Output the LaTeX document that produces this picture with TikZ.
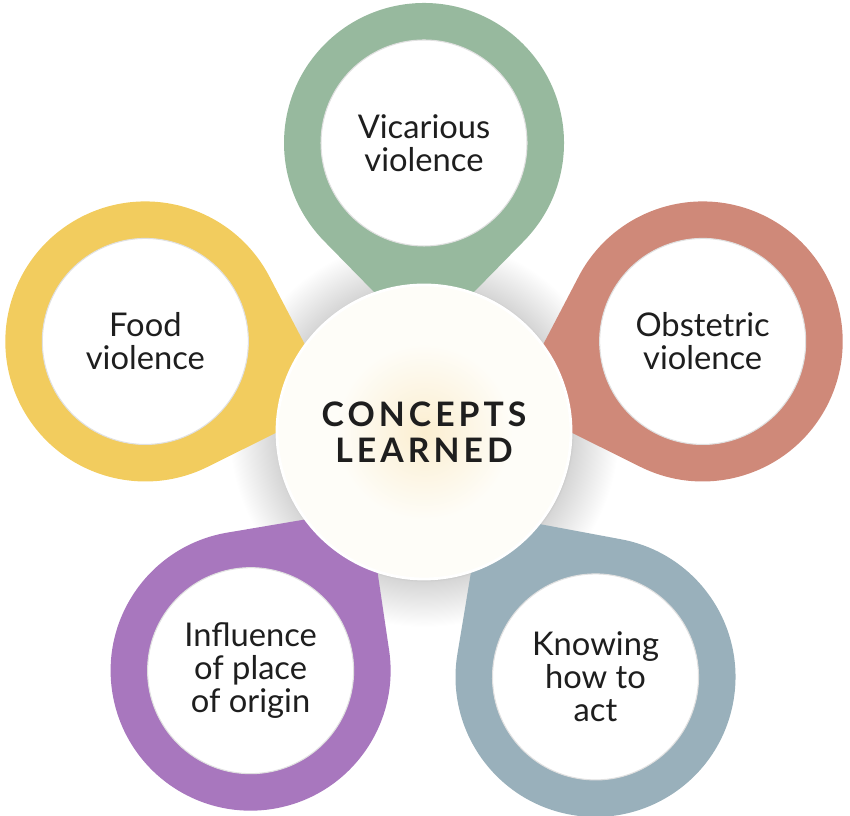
\documentclass[tikz,border=0pt]{standalone}
\usepackage{fontspec}
\setmainfont{Lato}
\usepackage{tikz}
\usepackage{xcolor}
\usetikzlibrary{positioning}
\definecolor{ringgreen}{RGB}{151,185,158}
\definecolor{ringyellow}{RGB}{242,204,94}
\definecolor{ringred}{RGB}{207,137,121}
\definecolor{ringpurple}{RGB}{168,119,190}
\definecolor{ringblue}{RGB}{153,176,187}
\definecolor{glowc}{RGB}{251,238,208}
\definecolor{coreedge}{RGB}{254,253,248}
\definecolor{textc}{RGB}{30,30,30}
\pgfdeclareradialshading{coreshadow}{\pgfpointorigin}{
 color(0bp)=(black!28); color(18.6bp)=(black!28); color(19.2bp)=(black!16);
 color(25bp)=(white); color(50bp)=(white)}
\pgfdeclareradialshading{coreglow}{\pgfpointorigin}{
 color(0bp)=(glowc); color(15bp)=(coreedge); color(25bp)=(coreedge); color(50bp)=(coreedge)}
\tikzset{
ringpin/.pic={
 \fill[pic actions] (180:2.0) -- (225.6:1.4)
  arc[start angle=225.6, end angle=494.4, radius=1.4] -- cycle;
 \fill[white, draw=black!12, line width=0.3pt] (0,0) circle (1.03);
 },
Bulle/.style={
 align=center, 
 text=textc, 
 font=\fontsize{9.3}{9.4}\selectfont
 },
Coeur/.style={
 circle, 
 minimum size=2.94cm, 
 shading=coreglow, 
 draw=white, 
 line width=0.8pt, 
 align=center, 
 text=textc, 
 font=\fontsize{9.6}{10.1}\selectfont\bfseries\addfontfeature{LetterSpace=12}
 }
}
\begin{document}
\begin{tikzpicture}
\useasboundingbox (0,0) rectangle (8.5,8.15);
\coordinate (centre) at (4.24,3.83);
\shade[shading=coreshadow] (centre) circle (1.95);
\path (centre) ++(90:2.89) coordinate (vicC);
\path (centre) ++(162:2.93) coordinate (foodC);
\path (centre) ++(18:2.93) coordinate (obstC);
\path (centre) ++(234:2.95) coordinate (origC);
\path (centre) ++(305:2.99) coordinate (actC);
\pic[fill=ringgreen, rotate=90] at (vicC) {ringpin};
\pic[fill=ringyellow, rotate=162] at (foodC) {ringpin};
\pic[fill=ringred, rotate=18] at (obstC) {ringpin};
\pic[fill=ringpurple, rotate=234] at (origC) {ringpin};
\pic[fill=ringblue, rotate=305] at (actC) {ringpin};
\node[Coeur] (core) at (centre) {CONCEPTS\\LEARNED};
\node[Bulle] (vic) at (vicC) {Vicarious\\violence};
\node[Bulle] (food) at (foodC) {Food\\violence};
\node[Bulle] (obst) at (obstC) {Obstetric\\violence};
\node[Bulle] (orig) at (origC) {Influence\\of place\\of origin};
\node[Bulle] (act) at (actC) {Knowing\\how to\\act};
\end{tikzpicture}
\end{document}
